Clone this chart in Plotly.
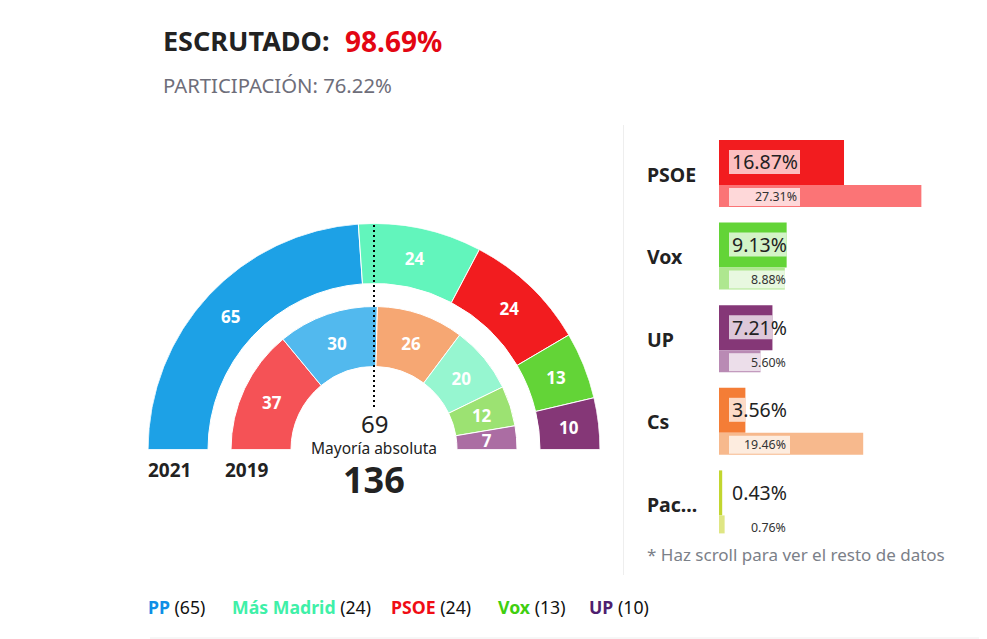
# -*- coding: utf-8 -*-

import plotly.graph_objs as go

# la pagina deja 8 px de margen en el body, se descuenta aqui
MARGEN = 8
W = 979
H = 631

# escaños, hemiciclo
partidos_2021 = ["PP", "Más Madrid", "PSOE", "Vox", "UP"]
escanos_2021 = [65, 24, 24, 13, 10]
colores_2021 = ["#1da1e6", "#62f5bc", "#f21c1f", "#63d437", "#853777"]

partidos_2019 = ["PSOE", "PP", "Cs", "Más Madrid", "Vox", "UP"]
escanos_2019 = [37, 30, 26, 20, 12, 7]
colores_2019 = ["#f55256", "#52b9ee", "#f6a773", "#96f6d0", "#9ce272", "#ab6da3"]

# porcentajes, barras de la derecha
partidos_barras = ["PSOE", "Vox", "UP", "Cs", "Pacma"]
etiquetas_barras = ["PSOE", "Vox", "UP", "Cs", "Pac..."]
pct_2021 = [16.87, 9.13, 7.21, 3.56, 0.43]
pct_2019 = [27.31, 8.88, 5.60, 19.46, 0.76]
colores_pct_2021 = ["#f21c1f", "#63d437", "#853777", "#f47d36", "#c2d62f"]
colores_pct_2019 = ["#fb7476", "#aee78f", "#b98ab4", "#f7b98d", "#dfe684"]

# leyenda de abajo
leyenda_colores = ["#0f8fe6", "#3ff0a8", "#f00d14", "#3fcf10", "#4f1f6f"]

FUENTE = "Noto Sans"
TINTA = "#222222"

def px(x):
    return (x - MARGEN) / W

def py(y):
    return 1 - (y - MARGEN) / H

def arco(escanos):
    total = float(sum(escanos))
    anchos = [e * 180 / total for e in escanos]
    medios = []
    acum = 0
    for a in anchos:
        medios.append(acum + a / 2)
        acum += a
    return medios, anchos

fig = go.Figure()

# hemiciclo: anillo exterior 2021, interior 2019
# los numeros van en polar2, el mismo hemiciclo 3 px mas abajo
anillos = [
    (escanos_2021, colores_2021, partidos_2021, 166, 60),
    (escanos_2019, colores_2019, partidos_2019, 83, 60),
]
for escanos, colores, nombres, base, grosor in anillos:
    medios, anchos = arco(escanos)
    fig.add_trace(go.Barpolar(
        r=[grosor] * len(escanos),
        base=base,
        theta=medios,
        width=anchos,
        marker=dict(color=colores, line=dict(color="white", width=1)),
        hovertext=nombres,
        showlegend=False,
        subplot="polar",
    ))
    fig.add_trace(go.Scatterpolar(
        r=[base + grosor / 2] * len(escanos),
        theta=medios,
        mode="text",
        text=[str(e) for e in escanos],
        textposition="middle center",
        textfont=dict(family=FUENTE, size=17, color="white", weight="bold"),
        showlegend=False,
        subplot="polar2",
    ))

# barras: una categoria cada 82.6 px, el eje y va por filas
FILA = 82.6
ESCALA = 7.41   # px por punto porcentual
EJE_X0 = 719

alto_2021 = 45 / FILA
alto_2019 = [22 / FILA, 22 / FILA, 22 / FILA, 22 / FILA, 18 / FILA]   # la ultima queda cortada

fig.add_trace(go.Bar(
    y=partidos_barras, x=pct_2021, orientation="h",
    width=alto_2021, offset=-alto_2021,
    marker=dict(color=colores_pct_2021, line=dict(width=0)),
    xaxis="x", yaxis="y", showlegend=False,
))
fig.add_trace(go.Bar(
    y=partidos_barras, x=pct_2019, orientation="h",
    width=alto_2019, offset=0,
    marker=dict(color=colores_pct_2019, line=dict(width=0)),
    xaxis="x", yaxis="y", showlegend=False,
))

# fondo blanco de las etiquetas, recortado al ancho de la barra
inicio = 10 / ESCALA
tope_2021 = [81 / ESCALA] * 5
tope_2019 = [81 / ESCALA, 81 / ESCALA, 81 / ESCALA, 71 / ESCALA, 71 / ESCALA]
fig.add_trace(go.Bar(
    y=partidos_barras,
    x=[max(min(v, t) - inicio, 0) for v, t in zip(pct_2021, tope_2021)],
    base=inicio, orientation="h",
    width=24 / FILA, offset=-35 / FILA,
    marker=dict(color="rgba(255,255,255,0.72)", line=dict(width=0)),
    xaxis="x", yaxis="y", showlegend=False,
))
fig.add_trace(go.Bar(
    y=partidos_barras,
    x=[max(min(v, t) - inicio, 0) for v, t in zip(pct_2019, tope_2019)],
    base=inicio, orientation="h",
    width=18 / FILA, offset=3 / FILA,
    marker=dict(color="rgba(255,255,255,0.72)", line=dict(width=0)),
    xaxis="x", yaxis="y", showlegend=False,
))

notas = []

def nota(x, y, texto, size, color=TINTA, anchor="left", family=FUENTE):
    notas.append(dict(
        x=px(x), y=py(y), xref="paper", yref="paper", text=texto,
        showarrow=False, xanchor=anchor, yanchor="middle",
        borderpad=0, borderwidth=0,
        font=dict(family=family, size=size, color=color),
    ))

# cabecera
nota(163, 41, "<b>ESCRUTADO:</b>", 27)
nota(345, 41, "<b>98.69%</b>", 28, "#e30613")
nota(163, 85, "PARTICIPACIÓN: 76.22%", 20.3, "#6e6e7a")

# centro del hemiciclo
nota(374, 423, "69", 24, anchor="center")
nota(374, 448, "Mayoría absoluta", 15.5, anchor="center")
nota(374, 479, "<b>136</b>", 36, anchor="center")
nota(148, 470, "<b>2021</b>", 19)
nota(225, 470, "<b>2019</b>", 19)

# etiquetas de las barras
filas_px = [185 + FILA * i for i in range(len(partidos_barras))]
fin_2019 = [797, 786, 786, 786, 786]
for i, nombre in enumerate(etiquetas_barras):
    nota(647, filas_px[i] - 11, "<b>%s</b>" % nombre, 19.5)
    nota(732, filas_px[i] - 23, "%.2f%%" % pct_2021[i], 19.5)
    nota(fin_2019[i], filas_px[i] + 12, "%.2f%%" % pct_2019[i], 12.4, "#333333", anchor="right")

nota(647, 554, "* Haz scroll para ver el resto de datos", 17, "#7b8088")

# leyenda
leyenda_x = [148, 232, 391, 498, 589]
for x, nombre, n, color in zip(leyenda_x, partidos_2021, escanos_2021, leyenda_colores):
    nota(x, 607, '<b><span style="color:%s">%s</span></b> (%d)' % (color, nombre, n), 17.7, "#111111")

lineas = [
    dict(type="line", xref="paper", yref="paper", x0=px(374), x1=px(374), y0=py(225), y1=py(409),
         line=dict(color="black", width=2, dash="2px,3px")),
    dict(type="line", xref="paper", yref="paper", x0=px(623.5), x1=px(623.5), y0=py(125), y1=py(575),
         line=dict(color="#eeeeee", width=1)),
    dict(type="line", xref="paper", yref="paper", x0=px(150), x1=px(987), y0=py(638), y1=py(638),
         line=dict(color="#eeeeee", width=1)),
]

def hemiciclo(bajada):
    return dict(
        domain=dict(x=[px(148), px(600)], y=[py(449.5 + bajada), py(223.5 + bajada)]),
        sector=[0, 180],
        bgcolor="rgba(0,0,0,0)",
        radialaxis=dict(visible=False, range=[0, 226]),
        angularaxis=dict(visible=False, direction="clockwise", rotation=180),
    )

fig.update_layout(
    width=W,
    height=H,
    margin=dict(l=0, r=0, t=0, b=0),
    paper_bgcolor="white",
    plot_bgcolor="rgba(0,0,0,0)",
    barmode="overlay",
    showlegend=False,
    annotations=notas,
    shapes=lineas,
    polar=hemiciclo(0),
    polar2=hemiciclo(3),
    xaxis=dict(domain=[px(EJE_X0), 1], range=[0, (W + MARGEN - EJE_X0) / ESCALA], visible=False),
    yaxis=dict(domain=[0, 1], type="category", categoryorder="array", categoryarray=partidos_barras,
               range=[(H + MARGEN - 185) / FILA, (MARGEN - 185) / FILA], visible=False),
)

fig.write_html("out.html")
